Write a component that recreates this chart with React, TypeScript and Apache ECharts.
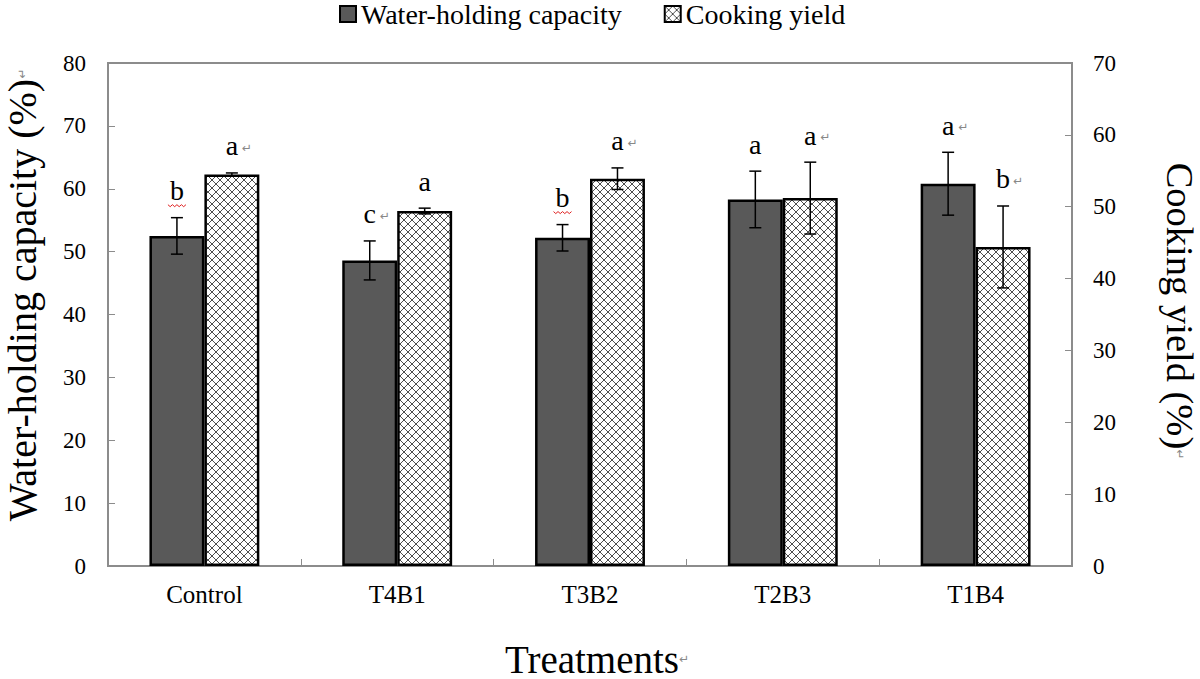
import React, { useEffect, useRef } from 'react';
import * as echarts from 'echarts';

const categories = ['Control', 'T4B1', 'T3B2', 'T2B3', 'T1B4'];
const whcValues = [52.5, 48.6, 52.2, 58.3, 60.8];
const whcErrors = [2.9, 3.1, 2.1, 4.5, 5.0];
const cyValues = [54.5, 49.4, 53.9, 51.2, 44.4];
const cyErrors = [0.2, 0.4, 1.5, 5.0, 5.7];
const whcLetters = ['b', 'c', 'b', 'a', 'a'];
const cyLetters = ['a', 'a', 'a', 'a', 'b'];
const whcMarks = [false, true, false, false, true];
const cyMarks = [true, false, true, true, true];
const whcSquiggle = [true, false, true, false, false];
const cySquiggle = [false, false, false, false, false];
const leftAxis = { min: 0, max: 80, interval: 10 };
const rightAxis = { min: 0, max: 70, interval: 10 };

const SERIF = 'Liberation Serif';
const MARK = '↵';

function makeHatch(): HTMLCanvasElement {
  const c = document.createElement('canvas');
  c.width = 8;
  c.height = 8;
  const ctx = c.getContext('2d')!;
  ctx.fillStyle = '#ffffff';
  ctx.fillRect(0, 0, 8, 8);
  ctx.strokeStyle = '#3a3a3a';
  ctx.lineWidth = 0.9;
  ctx.beginPath();
  ctx.moveTo(0, 0);
  ctx.lineTo(8, 8);
  ctx.moveTo(8, 0);
  ctx.lineTo(0, 8);
  ctx.stroke();
  return c;
}

function errorSeries(
  name: string,
  values: number[],
  errors: number[],
  letters: string[],
  marks: boolean[],
  squiggle: boolean[],
  sign: number,
  yAxisIndex: number
) {
  return {
    type: 'custom',
    name,
    yAxisIndex,
    z: 10,
    clip: false,
    silent: true,
    encode: { x: 0, y: 1 },
    data: values.map((v, i) => [i, v, errors[i]]),
    renderItem: (params: any, api: any) => {
      const idx = api.value(0);
      const v = api.value(1);
      const e = api.value(2);
      const band = api.size([1, 0])[0];
      const bw = band * 0.285;
      const cx = api.coord([idx, 0])[0] + (sign * bw) / 2;
      const yTop = api.coord([idx, v + e])[1];
      const yBot = api.coord([idx, v - e])[1];
      const cap = 6;
      const lineStyle = { stroke: '#000', lineWidth: 1.5 };
      const children: any[] = [
        { type: 'line', shape: { x1: cx, y1: yTop, x2: cx, y2: yBot }, style: lineStyle },
        { type: 'line', shape: { x1: cx - cap, y1: yTop, x2: cx + cap, y2: yTop }, style: lineStyle },
        { type: 'line', shape: { x1: cx - cap, y1: yBot, x2: cx + cap, y2: yBot }, style: lineStyle },
      ];
      const ly = yTop - 27;
      const i = params.dataIndex;
      children.push({
        type: 'text',
        x: cx,
        y: ly,
        style: {
          text: letters[i],
          fontSize: 28,
          fontFamily: SERIF,
          fill: '#000',
          align: 'center',
          verticalAlign: 'middle',
        },
      });
      if (marks[i]) {
        children.push({
          type: 'text',
          x: cx + 10,
          y: ly + 2,
          style: {
            text: MARK,
            fontSize: 12,
            fontFamily: 'DejaVu Sans',
            fill: '#888',
            align: 'left',
            verticalAlign: 'middle',
          },
        });
      }
      if (squiggle[i]) {
        const pts: number[][] = [];
        for (let k = 0; k <= 8; k++) {
          pts.push([cx - 9 + k * 2.25, ly + 14 + (k % 2 === 0 ? 0 : 2)]);
        }
        children.push({
          type: 'polyline',
          shape: { points: pts },
          style: { stroke: '#e02020', lineWidth: 1, fill: null },
        });
      }
      return { type: 'group', children };
    },
  };
}

const markRich = { r: { fontSize: 12, fontFamily: 'DejaVu Sans', fill: '#888', color: '#888' } };

export default function App() {
  const ref = useRef<HTMLDivElement>(null);

  useEffect(() => {
    if (!ref.current) return;
    const chart = echarts.init(ref.current, null, { renderer: 'svg' });
    const hatch = makeHatch();
    const hatchFill: any = { image: hatch, repeat: 'repeat', imageWidth: 8, imageHeight: 8 };
    const axisGrey = '#8c8c8c';

    const option: any = {
      animation: false,
      backgroundColor: '#ffffff',
      textStyle: { fontFamily: SERIF },
      grid: {
        left: 108,
        right: 128,
        top: 63,
        bottom: 113,
        show: true,
        borderColor: axisGrey,
        borderWidth: 2,
      },
      legend: {
        data: ['Water-holding capacity', 'Cooking yield'],
        left: 334,
        top: -5,
        icon: 'rect',
        itemWidth: 16,
        itemHeight: 16,
        itemGap: 42,
        textStyle: { fontSize: 28, fontFamily: SERIF, color: '#000' },
        itemStyle: { borderColor: '#000', borderWidth: 2 },
      },
      xAxis: {
        type: 'category',
        data: categories,
        axisLine: { show: true, lineStyle: { color: axisGrey, width: 2 } },
        axisTick: { show: true, inside: true, length: 7, lineStyle: { color: axisGrey } },
        axisLabel: { fontSize: 25, fontFamily: SERIF, color: '#000', margin: 16 },
        splitLine: { show: false },
      },
      yAxis: [
        {
          type: 'value',
          min: leftAxis.min,
          max: leftAxis.max,
          interval: leftAxis.interval,
          axisLine: { show: true, lineStyle: { color: axisGrey, width: 2 } },
          axisTick: { show: true, inside: true, length: 7, lineStyle: { color: axisGrey } },
          axisLabel: { fontSize: 23, fontFamily: SERIF, color: '#000', margin: 22 },
          splitLine: { show: false },
        },
        {
          type: 'value',
          position: 'right',
          min: rightAxis.min,
          max: rightAxis.max,
          interval: rightAxis.interval,
          axisLine: { show: true, lineStyle: { color: axisGrey, width: 2 } },
          axisTick: { show: true, inside: true, length: 7, lineStyle: { color: axisGrey } },
          axisLabel: { fontSize: 23, fontFamily: SERIF, color: '#000', margin: 21 },
          splitLine: { show: false },
        },
      ],
      series: [
        {
          type: 'bar',
          name: 'Water-holding capacity',
          yAxisIndex: 0,
          data: whcValues,
          barWidth: '28.5%',
          barGap: '0%',
          itemStyle: { color: '#595959', borderColor: '#000', borderWidth: 2.5 },
        },
        {
          type: 'bar',
          name: 'Cooking yield',
          yAxisIndex: 1,
          data: cyValues,
          barWidth: '28.5%',
          barGap: '0%',
          itemStyle: { color: hatchFill, borderColor: '#000', borderWidth: 2.5 },
        },
        errorSeries('whc-err', whcValues, whcErrors, whcLetters, whcMarks, whcSquiggle, -1, 0),
        errorSeries('cy-err', cyValues, cyErrors, cyLetters, cyMarks, cySquiggle, 1, 1),
      ],
      graphic: [
        {
          type: 'text',
          x: 22,
          y: 295,
          rotation: Math.PI / 2,
          style: {
            text: 'Water-holding capacity (%){r|' + MARK + '}',
            fontSize: 40,
            fontFamily: SERIF,
            fill: '#000',
            align: 'center',
            verticalAlign: 'middle',
            lineHeight: 40,
            rich: markRich,
          },
        },
        {
          type: 'text',
          x: 1180,
          y: 311,
          rotation: -Math.PI / 2,
          style: {
            text: 'Cooking yield (%){r|' + MARK + '}',
            fontSize: 38.5,
            fontFamily: SERIF,
            fill: '#000',
            align: 'center',
            verticalAlign: 'middle',
            lineHeight: 38,
            rich: markRich,
          },
        },
        {
          type: 'text',
          x: 597,
          y: 659,
          style: {
            text: 'Treatments{r|' + MARK + '}',
            fontSize: 39,
            fontFamily: SERIF,
            fill: '#000',
            align: 'center',
            verticalAlign: 'middle',
            lineHeight: 38,
            rich: markRich,
          },
        },
      ],
    };

    chart.setOption(option);
    return () => {
      chart.dispose();
    };
  }, []);

  return (
    <div
      ref={ref}
      style={{ position: 'fixed', left: 0, top: 0, width: 1200, height: 679, background: '#fff' }}
    />
  );
}
